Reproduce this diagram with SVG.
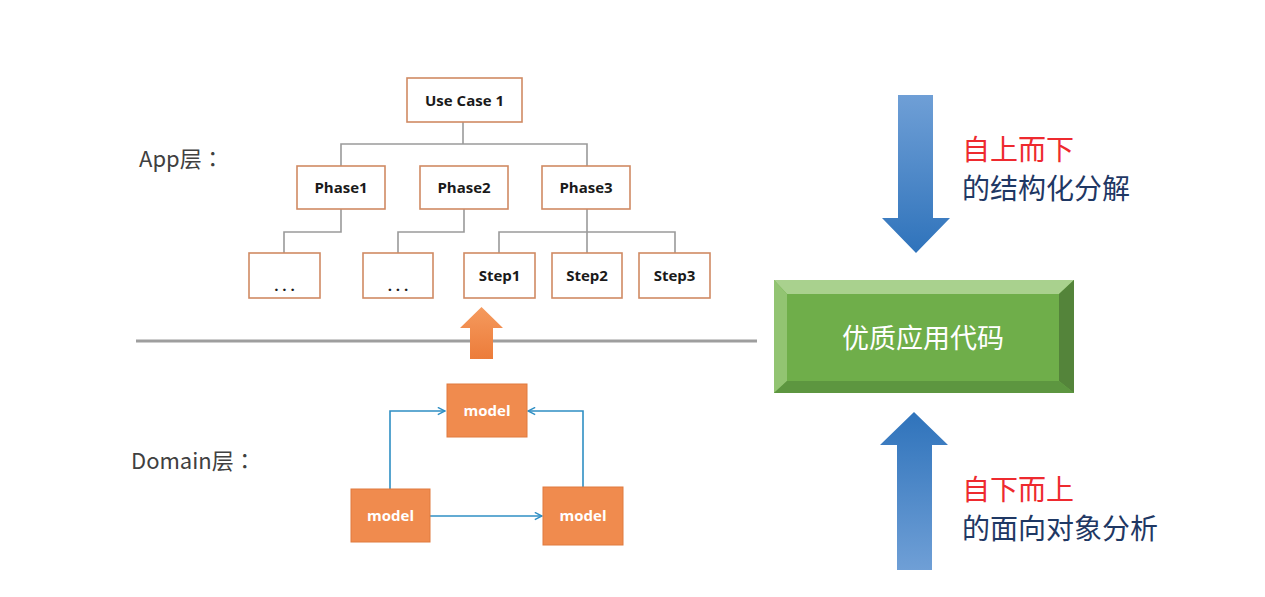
<svg xmlns="http://www.w3.org/2000/svg" width="1265" height="597" viewBox="0 0 1265 597">
<defs>
<style>
.tb{fill:#fff;stroke:#d08a63;stroke-width:1.6}
.tt{font-family:"Open Sans","Liberation Sans",sans-serif;font-weight:bold;font-size:15px;fill:#1a1a1a;text-anchor:middle}
.tl{fill:none;stroke:#9a9a9a;stroke-width:1.6}
.mb{fill:#f08b4e;stroke:#e07a3e;stroke-width:1}
.mt{font-family:"Open Sans","Liberation Sans",sans-serif;font-weight:bold;font-size:15px;fill:#fff;text-anchor:middle}
.bl{fill:none;stroke:#2f8fc4;stroke-width:1.6}
.lab{font-family:"Noto Sans CJK TC","Liberation Sans",sans-serif;font-size:22px;fill:#404040}
.red{font-family:"Noto Sans CJK SC",sans-serif;font-size:28px;fill:#ee2a2f}
.navy{font-family:"Noto Sans CJK SC",sans-serif;font-size:28px;fill:#1f3864}
</style>
<marker id="ah" viewBox="0 0 10 10" refX="9" refY="5" markerWidth="9" markerHeight="9" markerUnits="userSpaceOnUse" orient="auto">
<path d="M1,1 L9,5 L1,9" fill="none" stroke="#2f8fc4" stroke-width="1.6"/>
</marker>
<linearGradient id="gdown" x1="0" y1="0" x2="0" y2="1">
<stop offset="0" stop-color="#6f9fd6"/><stop offset="1" stop-color="#2f73bb"/>
</linearGradient>
<linearGradient id="gup" x1="0" y1="1" x2="0" y2="0">
<stop offset="0" stop-color="#6f9fd6"/><stop offset="1" stop-color="#2f73bb"/>
</linearGradient>
<linearGradient id="gor" x1="0" y1="0" x2="0" y2="1">
<stop offset="0" stop-color="#f59a5e"/><stop offset="1" stop-color="#ec7c3a"/>
</linearGradient>
</defs>
<rect width="1265" height="597" fill="#fff"/>

<text class="lab" x="139" y="167">App层：</text>
<text class="lab" x="131" y="469">Domain层：</text>

<line x1="136" y1="341" x2="757" y2="341" stroke="#9e9e9e" stroke-width="3"/>

<g id="connectors">
<polyline class="tl" points="463,122 463,144"/>
<polyline class="tl" points="341,166 341,144 587,144 587,166"/>
<polyline class="tl" points="341,209 341,232 284,232 284,253"/>
<polyline class="tl" points="464,209 464,232 398,232 398,253"/>
<polyline class="tl" points="587,209 587,253"/>
<polyline class="tl" points="499,253 499,232 675,232 675,253"/>
<polyline class="bl" points="390,489 390,411 445,411" marker-end="url(#ah)"/>
<polyline class="bl" points="583,487 583,411 528,411" marker-end="url(#ah)"/>
<polyline class="bl" points="430,516 542,516" marker-end="url(#ah)"/>
</g>

<g id="usecase1"><rect class="tb" x="407" y="78" width="115" height="44"/><text class="tt" x="464.5" y="106">Use Case 1</text></g>
<g id="phase1"><rect class="tb" x="297" y="166" width="88" height="43"/><text class="tt" x="341" y="193">Phase1</text></g>
<g id="phase2"><rect class="tb" x="420" y="166" width="88" height="43"/><text class="tt" x="464" y="193">Phase2</text></g>
<g id="phase3"><rect class="tb" x="542" y="166" width="88" height="43"/><text class="tt" x="586" y="193">Phase3</text></g>
<g id="dots1"><rect class="tb" x="249" y="253" width="71" height="45"/><text class="tt" x="284.5" y="291">. . .</text></g>
<g id="dots2"><rect class="tb" x="363" y="253" width="70" height="45"/><text class="tt" x="398" y="291">. . .</text></g>
<g id="step1"><rect class="tb" x="464" y="253" width="71" height="45"/><text class="tt" x="499.5" y="281">Step1</text></g>
<g id="step2"><rect class="tb" x="552" y="253" width="70" height="45"/><text class="tt" x="587" y="281">Step2</text></g>
<g id="step3"><rect class="tb" x="639" y="253" width="71" height="45"/><text class="tt" x="674.5" y="281">Step3</text></g>

<g id="up-arrow-orange"><polygon points="481.5,307 503,328 493,328 493,359 470,359 470,328 460,328" fill="url(#gor)"/></g>

<g id="model-top"><rect class="mb" x="447" y="384" width="80" height="53"/><text class="mt" x="487" y="416">model</text></g>
<g id="model-left"><rect class="mb" x="351" y="489" width="79" height="53"/><text class="mt" x="390.5" y="521">model</text></g>
<g id="model-right"><rect class="mb" x="543" y="487" width="80" height="58"/><text class="mt" x="583" y="521">model</text></g>

<g id="arrow-down"><polygon points="898,95 933,95 933,218 950,218 916,253 882,218 898,218" fill="url(#gdown)"/></g>
<g id="arrow-up"><polygon points="914,412 948,445 932,445 932,570 897,570 897,445 880,445" fill="url(#gup)"/></g>

<g id="quality-code">
<rect x="774" y="280" width="300" height="113" fill="#6fae4a"/>
<polygon points="774,280 1074,280 1059,294 787,294" fill="#a9d18e"/>
<polygon points="774,280 787,294 787,381 774,393" fill="#92c472"/>
<polygon points="1074,280 1074,393 1059,381 1059,294" fill="#54843a"/>
<polygon points="774,393 787,381 1059,381 1074,393" fill="#5d9640"/>
<rect x="787" y="294" width="272" height="87" fill="#6fae4a"/>
<text x="923" y="348" text-anchor="middle" font-family="Noto Sans CJK SC,sans-serif" font-size="27" fill="#fff">优质应用代码</text>
</g>

<text class="red" x="962" y="160">自上而下</text>
<text class="navy" x="962" y="199">的结构化分解</text>
<text class="red" x="962" y="500">自下而上</text>
<text class="navy" x="962" y="539">的面向对象分析</text>
</svg>
